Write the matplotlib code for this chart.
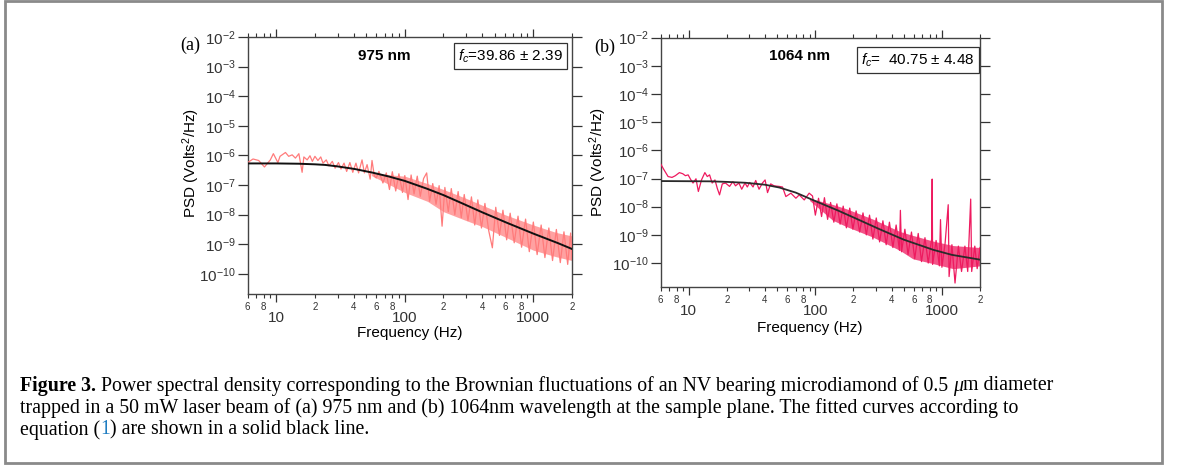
import numpy as np
import matplotlib
matplotlib.use("Agg")
import matplotlib.pyplot as plt
from matplotlib import ticker
from matplotlib.patches import Rectangle

plt.rcParams['font.family'] = ['Liberation Sans', 'DejaVu Sans']
plt.rcParams['mathtext.fontset'] = 'custom'
plt.rcParams['mathtext.rm'] = 'Liberation Sans'
plt.rcParams['mathtext.it'] = 'Liberation Sans:italic'
plt.rcParams['axes.unicode_minus'] = False

# ---- panel (a): 975 nm, measured PSD (log10 of Volts^2/Hz) ----
freq_a = [5.9, 6.6, 7.3, 8.1, 9.0, 9.5, 10.3, 10.7, 11.8, 12.5, 13.3, 14.1, 15.0, 15.9, 16.4,
          17.4, 18.3, 19.1, 20.0, 21.1, 22.2, 23.1, 24.5, 25.7, 27.3, 28.7, 30.5, 31.9, 33.7, 35.3,
          37.4, 39.4, 41.7, 43.7, 46.5, 48.5, 50.9, 53.8, 55.6, 58.0, 60.0, 62.9, 67.6, 71.8,
          76, 80, 85, 90, 96, 100, 106, 112, 118, 125, 132, 140, 148, 156, 165,
          175, 185, 195, 205, 218, 230, 245, 260, 275, 290, 310, 330, 350, 370, 395,
          420, 450, 480, 510, 545, 580, 620, 660, 710, 760, 810, 870, 930, 1000, 1070,
          1150, 1230, 1320, 1410, 1510, 1620, 1730, 1850, 1950, 2000]
log_psd_a = [-6.26, -6.12, -6.17, -6.39, -6.15, -5.94, -6.24, -6.03, -5.90, -6.03, -5.98, -6.09, -5.94, -6.57, -6.05,
             -6.15, -6.01, -6.20, -6.03, -6.17, -6.05, -6.26, -6.15, -6.35, -6.20, -6.43, -6.24, -6.46, -6.26, -6.54,
             -6.24, -6.57, -6.26, -6.59, -6.15, -6.59, -6.31, -6.80, -6.17, -6.70, -6.76, -6.54, -6.93, -6.59,
             -7.15, -6.55, -7.20, -6.62, -7.25, -6.68, -7.49, -6.66, -7.30, -6.70, -7.38, -6.78, -6.59, -7.55, -6.95,
             -7.65, -7.02, -8.39, -7.08, -7.90, -7.12, -8.00, -7.22, -8.10, -7.32, -8.20, -7.40, -8.35, -7.50, -8.45,
             -7.62, -8.55, -9.12, -7.75, -8.70, -7.85, -8.85, -7.95, -8.95, -8.05, -9.10, -8.15, -9.25, -8.25, -9.35,
             -8.35, -9.45, -8.45, -9.55, -8.50, -9.62, -8.58, -9.68, -8.62, -9.50]
# dense core of the noise band
band_f_a = [55, 100, 150, 200, 300, 400, 600, 1000, 1500, 2000]
band_hi_a = [-6.60, -6.70, -6.95, -7.15, -7.45, -7.68, -8.00, -8.35, -8.60, -8.72]
band_lo_a = [-6.68, -7.25, -7.55, -7.90, -8.20, -8.40, -8.75, -9.20, -9.42, -9.55]
# fitted curve
fit_f_a = [6, 10, 15, 20, 24, 30, 41, 56, 75, 100, 148, 200, 287, 400, 627, 1000, 1550, 2000]
fit_a = [-6.27, -6.27, -6.28, -6.30, -6.32, -6.37, -6.46, -6.58, -6.71, -6.86, -7.12, -7.34,
         -7.64, -7.92, -8.28, -8.64, -8.96, -9.16]

# ---- panel (b): 1064 nm ----
freq_b = [5.96, 6.33, 6.86, 7.37, 7.83, 8.43, 8.96, 9.41, 9.88, 10.3, 10.8, 11.4, 11.9, 12.6, 13.4,
          14.0, 14.6, 15.3, 16.1, 16.8, 17.5, 18.4, 19.5, 21.0, 22.3, 23.4, 24.9, 26.2, 27.8, 29.0,
          30.3, 32.2, 33.8, 35.9, 38.2, 40.1, 41.9, 44.4, 47.2, 51.8, 55.0, 58.5, 64.1, 70.2, 74.6,
          81.7, 89.4,
          95, 100, 106, 112, 118, 125, 132, 140, 148, 157, 166, 176, 187, 198, 210,
          224, 238, 253, 268, 285, 303, 322, 342, 363, 385, 410, 435, 462, 470, 480,
          510, 540, 575, 610, 650, 690, 735, 780, 830, 838, 845, 900, 955, 975, 1000,
          1060, 1122, 1140, 1200, 1270, 1350, 1430, 1520, 1600, 1689, 1720, 1820, 1900, 2000]
log_psd_b = [-6.46, -6.67, -6.93, -6.96, -6.90, -6.79, -6.83, -6.90, -6.87, -7.02, -7.16, -7.01, -7.46, -7.05, -6.79,
             -6.93, -6.87, -7.16, -7.05, -7.35, -7.58, -7.19, -7.16, -7.28, -7.11, -7.26, -7.16, -7.38, -7.16, -7.30,
             -7.14, -7.30, -7.07, -7.38, -7.16, -7.05, -7.50, -7.19, -7.26, -7.28, -7.30, -7.64, -7.52, -7.70, -7.58,
             -7.76, -7.52,
             -7.62, -8.30, -7.70, -8.35, -7.68, -8.45, -7.85, -8.55, -7.90, -8.62, -7.98, -8.75, -8.05, -8.80, -8.15,
             -8.90, -8.22, -9.00, -8.30, -9.15, -8.40, -9.25, -8.50, -9.35, -8.55, -9.45, -8.65, -9.55, -8.13, -9.60,
             -8.80, -9.70, -8.90, -9.85, -8.95, -9.95, -9.10, -10.0, -9.15, -7.02, -10.05, -9.20, -10.1, -8.46, -10.15,
             -9.30, -7.93, -10.48, -9.35, -10.71, -9.40, -10.3, -9.40, -10.3, -7.73, -10.3, -9.40, -10.2, -9.45]
band_f_b = [90, 137, 175, 285, 465, 590, 850, 1230, 2000]
band_hi_b = [-7.70, -7.92, -8.07, -8.44, -8.88, -9.02, -9.22, -9.38, -9.45]
band_lo_b = [-7.78, -8.48, -8.70, -9.08, -9.55, -9.85, -10.02, -10.20, -10.10]
fit_f_b = [6, 15, 20, 28, 40, 52, 70, 100, 150, 200, 322, 500, 853, 1200, 2000]
fit_b = [-7.09, -7.10, -7.12, -7.15, -7.22, -7.32, -7.50, -7.80, -8.13, -8.38, -8.80, -9.17, -9.53, -9.71, -9.88]


def minor_label(v, pos):
    m = v / 10 ** np.floor(np.log10(v) + 1e-9)
    d = int(round(m))
    return str(d) if d in (2, 4, 6, 8) else ""


def style_axes(ax, ybottom):
    ax.set_xscale('log')
    ax.set_yscale('log')
    ax.set_xlim(6, 2000)
    ax.set_ylim(10 ** ybottom, 1e-2)
    ax.xaxis.set_major_locator(ticker.LogLocator(base=10, numticks=10))
    ax.xaxis.set_minor_locator(ticker.LogLocator(base=10, subs=range(2, 10), numticks=10))
    ax.xaxis.set_major_formatter(ticker.FuncFormatter(lambda v, p: "%d" % round(v)))
    ax.xaxis.set_minor_formatter(ticker.FuncFormatter(minor_label))
    ax.yaxis.set_major_locator(ticker.LogLocator(base=10, numticks=20))
    ax.yaxis.set_minor_locator(ticker.NullLocator())
    ax.tick_params(axis='x', which='major', direction='out', length=6, width=0.9, top=True,
                   labelsize=11, pad=6.5, colors='#333333')
    ax.tick_params(axis='x', which='minor', direction='out', length=3, width=0.8, top=True,
                   labelsize=7, pad=2.5, colors='#333333')
    ax.tick_params(axis='y', which='major', direction='out', length=7, width=0.9, right=True,
                   labelsize=11, pad=1.5, colors='#333333')
    for s in ax.spines.values():
        s.set_color('#444444')
        s.set_linewidth(1.0)
    ax.set_xlabel('Frequency (Hz)', fontsize=11)
    ax.set_ylabel('PSD (Volts$^2$/Hz)', fontsize=11)


fig = plt.figure(figsize=(11.79, 4.68), dpi=100)

# panel (a)
ax1 = fig.add_axes([0.2101, 0.3718, 0.2751, 0.5491])
ax1.fill_between(band_f_a, 10 ** np.array(band_lo_a), 10 ** np.array(band_hi_a),
                 color='#FF8A8A', alpha=0.8, lw=0, zorder=2)
ax1.plot(freq_a, 10 ** np.array(log_psd_a), color='#FF7B7B', lw=0.9, zorder=3)
ax1.plot(fit_f_a, 10 ** np.array(fit_a), color='#111111', lw=1.4, zorder=4)
style_axes(ax1, -10.68)
ax1.xaxis.set_label_coords(0.50, -0.125)
ax1.yaxis.set_label_coords(-0.141, 0.51)
ax1.text(0.42, 0.925, '975 nm', transform=ax1.transAxes, ha='center', va='center',
         fontsize=11, fontweight='bold')
ax1.text(0.81, 0.925, '$f_c$=39.86 ± 2.39', transform=ax1.transAxes, ha='center', va='center',
         fontsize=11, bbox=dict(boxstyle='square,pad=0.28', fc='white', ec='#333333', lw=0.9))

# panel (b)
ax2 = fig.add_axes([0.5604, 0.3868, 0.2708, 0.5327])
ax2.fill_between(band_f_b, 10 ** np.array(band_lo_b), 10 ** np.array(band_hi_b),
                 color='#EE1A5F', alpha=0.75, lw=0, zorder=2)
ax2.plot(freq_b, 10 ** np.array(log_psd_b), color='#EE1A5F', lw=0.9, zorder=3)
ax2.plot(fit_f_b, 10 ** np.array(fit_b), color='#2a2a2a', lw=1.3, zorder=4)
style_axes(ax2, -10.85)
ax2.xaxis.set_label_coords(0.467, -0.136)
ax2.yaxis.set_label_coords(-0.162, 0.50)
ax2.text(0.435, 0.925, '1064 nm', transform=ax2.transAxes, ha='center', va='center',
         fontsize=11, fontweight='bold')
ax2.text(0.805, 0.91, '$f_c$=  40.75 ± 4.48', transform=ax2.transAxes, ha='center', va='center',
         fontsize=11, bbox=dict(boxstyle='square,pad=0.28', fc='white', ec='#333333', lw=0.9))

# panel letters
fig.text(190 / 1179, 1 - 45 / 468, '(a)', family='Liberation Serif', fontsize=13,
         ha='center', va='center')
fig.text(605 / 1179, 1 - 47 / 468, '(b)', family='Liberation Serif', fontsize=13,
         ha='center', va='center')

# caption, drawn piece by piece
renderer = fig.canvas.get_renderer()
cap_size = 14.3


def caption_line(pieces, x0, y):
    x = x0
    for txt, kw in pieces:
        t = fig.text(x, y, txt, family='Liberation Serif', fontsize=cap_size,
                     ha='left', va='center', **kw)
        x += t.get_window_extent(renderer).width / fig.bbox.width


x0 = 20 / 1179
caption_line([("Figure 3.", dict(fontweight='bold')),
              (" Power spectral density corresponding to the Brownian fluctuations of an NV "
               "bearing microdiamond of 0.5 ", {}),
              ("\u03bc", dict(style='italic')),
              ("m diameter", {})], x0, 1 - 386 / 468)
caption_line([("trapped in a 50 mW laser beam of (a) 975 nm and (b) 1064nm wavelength at the "
               "sample plane. The fitted curves according to", {})], x0, 1 - 408 / 468)
caption_line([("equation (", {}), ("1", dict(color='#1F7DC1')),
              (") are shown in a solid black line.", {})], x0, 1 - 430 / 468)

# outer frame
fig.patches.append(Rectangle((5 / 1179, 5 / 468), 1157 / 1179, 462 / 468,
                             transform=fig.transFigure, fill=False, ec='#8a8a8a', lw=2))

plt.savefig('out.png', dpi=100)
plt.close()
